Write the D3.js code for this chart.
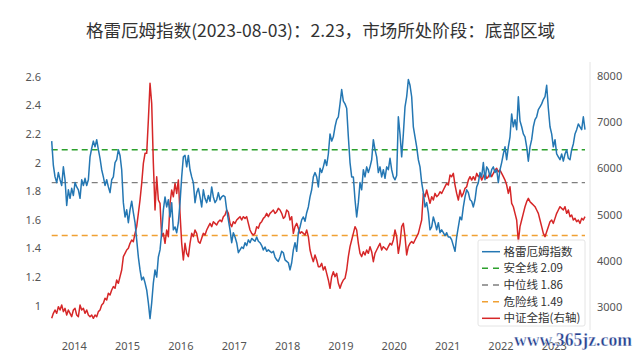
<!DOCTYPE html>
<html><head><meta charset="utf-8">
<script src="https://cdn.jsdelivr.net/npm/d3@7"></script>
<style>body{margin:0;background:#fff}</style>
</head><body><svg id="c" width="640" height="356"></svg>
<script>
const titleText = "格雷厄姆指数(2023-08-03)：2.23，市场所处阶段：底部区域";
const startDate = "2013-08-03", endDate = "2023-08-03";
const grahamIndex = [
2.15,1.98,1.90,1.86,1.93,1.88,1.84,1.97,1.88,1.70,
1.81,1.75,1.82,1.77,1.86,1.83,1.81,1.75,1.88,1.84,
1.89,1.84,1.88,2.04,2.10,2.15,2.11,2.16,2.09,2.03,
1.95,1.90,1.84,1.88,1.83,1.79,1.88,1.90,2.00,2.02,
2.09,2.05,1.95,1.72,1.62,1.67,1.58,1.67,1.73,1.65,
1.58,1.46,1.34,1.25,1.18,1.20,1.16,1.11,1.02,0.91,
1.02,1.16,1.25,1.20,1.34,1.39,1.51,1.67,1.76,1.69,
1.74,1.62,1.72,1.53,1.55,1.51,1.58,
1.72,1.90,2.04,2.05,1.97,2.05,1.95,1.90,1.86,1.72,
1.79,1.82,1.76,1.69,1.81,1.75,1.72,1.77,1.73,1.83,
1.76,1.72,1.74,1.79,1.74,1.76,1.77,1.76,1.67,1.60,
1.53,1.44,1.51,1.48,1.44,1.37,1.39,1.41,1.40,1.44,
1.42,1.46,1.44,1.47,1.46,1.45,1.48,1.45,1.44,1.42,
1.39,1.41,1.38,1.39,1.38,1.37,1.38,1.34,1.32,1.31,
1.34,1.38,1.37,1.32,1.31,1.30,1.25,1.30,1.39,1.44,
1.38,1.51,1.55,1.60,1.62,1.59,1.65,1.69,1.76,1.81,
1.90,
1.93,1.90,1.83,1.96,1.93,1.97,2.02,1.98,2.06,2.20,
2.15,2.18,2.25,2.30,2.32,2.41,2.51,2.43,2.41,2.38,
2.18,2.00,1.90,1.90,1.74,1.62,1.72,1.86,1.81,1.95,
1.90,1.97,1.93,1.97,2.02,2.16,2.09,2.04,1.93,1.97,
1.90,1.95,1.89,1.97,1.95,2.03,1.95,1.90,1.88,1.91,
2.32,2.20,2.04,2.20,2.39,2.46,2.58,2.54,2.46,2.25,
2.18,2.11,2.02,1.97,1.86,1.79,1.69,1.72,1.65,1.53,
1.55,1.62,1.58,1.53,1.58,1.51,1.53,1.51,1.49,1.51,
1.48,
1.48,1.46,1.42,1.38,1.48,1.55,1.62,1.60,1.69,1.76,
1.81,1.79,1.74,1.73,1.69,1.74,1.83,1.86,1.93,1.90,
2.00,1.88,1.97,1.95,1.90,1.95,1.97,1.93,1.95,1.86,
1.95,2.00,2.06,2.11,2.02,2.11,2.18,2.34,2.25,2.30,
2.23,2.46,2.29,2.25,2.20,2.18,2.11,2.01,2.11,2.16,
2.25,2.30,2.32,2.37,2.39,2.41,2.44,2.46,2.54,2.38,
2.25,2.20,2.11,2.16,2.06,2.04,2.02,2.06,2.01,2.06,
2.09,2.03,2.02,2.09,2.13,2.20,2.23,2.27,2.25,2.23,
2.32,2.23
];
const csiAllShare = [
2748,2856,2929,2856,3001,2929,3037,2893,2965,2820,
2929,2856,2784,2929,2965,2820,2784,3037,2929,2965,
2856,2929,2820,2784,2820,2748,2820,2784,2893,2929,
3037,3074,3182,3146,3291,3254,3363,3435,3399,3580,
3507,3652,3796,4086,4158,4230,4266,4375,4447,4411,
4591,4736,5025,5314,5675,6109,6326,6326,7050,7845,
7411,6109,5097,5820,5314,5242,4519,4591,4375,4664,
4519,5242,5531,5386,5675,5458,5747,
5025,4375,4013,4375,4158,4086,4375,4591,4519,4664,
4591,4411,4375,4483,4591,4555,4664,4736,4808,4736,
4844,4808,4772,4844,4880,4844,4953,4989,5097,5025,
4808,4736,4844,4808,4880,4916,4953,4880,4953,4916,
4953,4808,4664,4591,4555,4591,4736,4700,4808,4844,
4916,4953,5025,4953,5025,5061,5097,5025,5061,5133,
5097,5025,4916,4953,5097,5061,4880,4953,4591,4736,
4808,4700,4591,4627,4591,4555,4664,4519,4230,4086,
3977,
4122,4013,3869,3869,3941,3796,3869,3724,3580,3399,
3652,3760,3652,3724,3507,3399,3507,3580,3616,3796,
4086,4302,4447,4591,4736,4664,4375,4158,4086,4194,
4122,4230,4158,4302,4194,3977,4158,4230,4302,4375,
4230,4302,4266,4230,4302,4375,4338,4447,4664,4519,
4158,4375,4736,4808,4519,4122,4302,4375,4411,4375,
4447,4519,4591,4736,4880,5458,5386,5531,5386,5242,
5386,5314,5458,5386,5422,5494,5458,5531,5603,5675,
5639,
5856,5820,5892,5639,5458,5314,5531,5386,5458,5567,
5603,5747,5820,5747,5820,5747,5892,5820,5856,5747,
5820,5892,5784,5820,5892,5820,5892,5964,6001,5928,
5964,5892,5820,5747,5639,5458,5603,5242,5169,5025,
4880,4411,4736,4880,5025,5169,5278,5350,5278,5242,
5205,5169,5097,5025,4880,4736,4591,4519,4627,4736,
4844,4880,4808,4916,5025,5097,5169,5133,5097,5169,
5025,5097,4953,4989,4880,4916,4844,4880,4808,4916,
4880,4953
];
const leftTicks = [1, 1.2, 1.4, 1.6, 1.8, 2, 2.2, 2.4, 2.6];
const rightTicks = [3000, 4000, 5000, 6000, 7000, 8000];
const yearLabels = [2014, 2015, 2016, 2017, 2018, 2019, 2020, 2021, 2022, 2023];
const refNames = ["安全线", "中位线", "危险线"];
const refValues = [2.09, 1.86, 1.49];
const refColors = ["#2ca02c", "#7f7f7f", "#f0a033"];
const seriesNames = ["格雷厄姆指数", "中证全指(右轴)"];
const seriesColors = ["#2477b3", "#d62728"];
const watermark = "www.365jz.com";

const svg = d3.select("#c");
const font = "'Noto Sans CJK SC','Noto Sans',sans-serif";
const t0 = new Date(startDate), t1 = new Date(endDate);
const dateAt = (i, n) => new Date(+t0 + (t1 - t0) * i / (n - 1));

const x = d3.scaleTime().domain([t0, t1]).range([51.7, 585]);
const yL = d3.scaleLinear().domain([1, 2.6]).range([305.7, 76.7]);
const yR = d3.scaleLinear().domain([3000, 8000]).range([306.7, 76.2]);

// faint right frame line
svg.append("line").attr("x1", 590).attr("x2", 590).attr("y1", 62).attr("y2", 330)
  .attr("stroke", "#e4e4e4").attr("stroke-width", 1);

// title
svg.append("text").attr("x", 86).attr("y", 36.5).attr("textLength", 469)
  .attr("lengthAdjust", "spacingAndGlyphs")
  .attr("font-family", font).attr("font-size", 17).attr("fill", "#333")
  .text(titleText);

// axes
const axL = svg.append("g").attr("transform", "translate(46,0)")
  .call(d3.axisLeft(yL).tickValues(leftTicks).tickSize(0).tickPadding(5).tickFormat(d3.format("~g")));
const axR = svg.append("g").attr("transform", "translate(592,0)")
  .call(d3.axisRight(yR).tickValues(rightTicks).tickSize(0).tickPadding(5).tickFormat(d => d));
const axB = svg.append("g").attr("transform", "translate(0,340)")
  .call(d3.axisBottom(x).tickValues(yearLabels.map(yv => new Date(yv, 0, 1))).tickSize(0).tickPadding(0)
    .tickFormat(d3.timeFormat("%Y")));
[axL, axR, axB].forEach(a => {
  a.select(".domain").remove();
  a.selectAll("text").attr("font-family", "'Noto Sans',sans-serif").attr("font-size", 11).attr("fill", "#555");
});
axB.selectAll("text").attr("dy", "0.71em").attr("y", 2);

// reference lines
refValues.forEach((v, i) => {
  svg.append("line").attr("x1", x(t0)).attr("x2", x(t1)).attr("y1", yL(v)).attr("y2", yL(v))
    .attr("stroke", refColors[i]).attr("stroke-width", 1.4).attr("stroke-dasharray", "6,4");
});

// series
const lineL = d3.line().x((d, i) => x(dateAt(i, grahamIndex.length))).y(d => yL(d));
const lineR = d3.line().x((d, i) => x(dateAt(i, csiAllShare.length))).y(d => yR(d));
svg.append("path").datum(csiAllShare).attr("d", lineR).attr("fill", "none")
  .attr("stroke", seriesColors[1]).attr("stroke-width", 1.5).attr("stroke-linejoin", "round");
svg.append("path").datum(grahamIndex).attr("d", lineL).attr("fill", "none")
  .attr("stroke", seriesColors[0]).attr("stroke-width", 1.5).attr("stroke-linejoin", "round");

// legend
const lg = svg.append("g");
lg.append("rect").attr("x", 478).attr("y", 240).attr("width", 107).attr("height", 86)
  .attr("rx", 2).attr("fill", "#fff").attr("fill-opacity", 0.85).attr("stroke", "#dddddd").attr("stroke-width", 0.8);
const items = [
  {label: seriesNames[0], color: seriesColors[0], dash: null},
  {label: refNames[0] + " " + refValues[0], color: refColors[0], dash: "6,5"},
  {label: refNames[1] + " " + refValues[1], color: refColors[1], dash: "6,5"},
  {label: refNames[2] + " " + refValues[2], color: refColors[2], dash: "6,5"},
  {label: seriesNames[1], color: seriesColors[1], dash: null}
];
items.forEach((it, i) => {
  const cy = 251.7 + i * 16.65;
  lg.append("line").attr("x1", 482).attr("x2", 500).attr("y1", cy).attr("y2", cy)
    .attr("stroke", it.color).attr("stroke-width", 1.5).attr("stroke-dasharray", it.dash);
  lg.append("text").attr("x", 503.5).attr("y", cy).attr("dy", "0.36em")
    .attr("font-family", font).attr("font-size", 11.5).attr("fill", "#333").text(it.label);
});

// watermark
svg.append("text").attr("x", 514).attr("y", 346).attr("textLength", 118).attr("lengthAdjust", "spacingAndGlyphs")
  .attr("font-family", "'Liberation Serif',serif").attr("font-weight", "bold").attr("font-size", 19)
  .attr("fill", "#24408f").attr("stroke", "#fff").attr("stroke-width", 0.4).text(watermark);
</script></body></html>
